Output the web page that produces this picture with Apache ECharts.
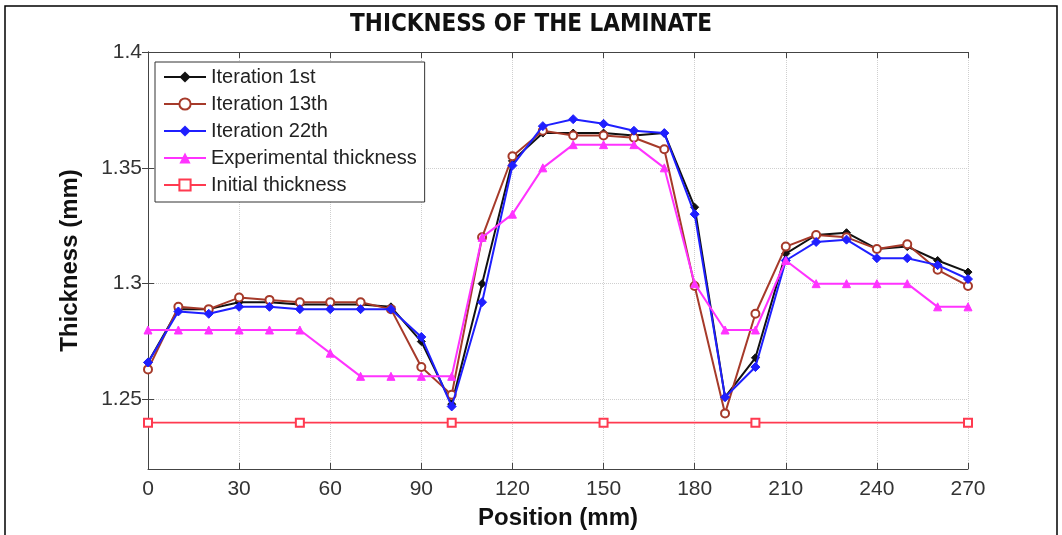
<!DOCTYPE html>
<html>
<head>
<meta charset="utf-8">
<script src="https://cdn.jsdelivr.net/npm/echarts@6/dist/echarts.min.js"></script>
<style>html,body{margin:0;padding:0;background:#fff;}#c{width:1062px;height:535px;}</style>
</head>
<body>
<div id="c"></div>
<script>
const positions = [0,10,20,30,40,50,60,70,80,90,100,110,120,130,140,150,160,170,180,190,200,210,220,230,240,250,260,270];
const iter1 = [1.266,1.289,1.289,1.292,1.292,1.291,1.291,1.291,1.290,1.275,1.248,1.300,1.353,1.365,1.365,1.365,1.364,1.365,1.333,1.251,1.268,1.313,1.321,1.322,1.315,1.316,1.310,1.305];
const iter13 = [1.263,1.290,1.289,1.294,1.293,1.292,1.292,1.292,1.289,1.264,1.252,1.320,1.355,1.366,1.364,1.364,1.363,1.358,1.299,1.244,1.287,1.316,1.321,1.320,1.315,1.317,1.306,1.299];
const iter22 = [1.266,1.288,1.287,1.290,1.290,1.289,1.289,1.289,1.289,1.277,1.247,1.292,1.351,1.368,1.371,1.369,1.366,1.365,1.330,1.251,1.264,1.310,1.318,1.319,1.311,1.311,1.308,1.302];
const experimental = [1.28,1.28,1.28,1.28,1.28,1.28,1.27,1.26,1.26,1.26,1.26,1.32,1.33,1.35,1.36,1.36,1.36,1.35,1.30,1.28,1.28,1.31,1.30,1.30,1.30,1.30,1.29,1.29];
const initialPositions = [0,50,100,150,200,270];
const initialValues = [1.24,1.24,1.24,1.24,1.24,1.24];
const xTicks = [0,30,60,90,120,150,180,210,240,270];
const yTicks = [1.25,1.3,1.35,1.4];

const pair = (xs, ys) => xs.map((x, i) => [x, ys[i]]);
const chart = echarts.init(document.getElementById('c'));
const FONT = 'Liberation Sans, Arial, sans-serif';
const axisCommon = {
  axisLine: {show: true, lineStyle: {color: '#444', width: 1}},
  axisTick: {show: true, inside: true, length: 6, lineStyle: {color: '#444'}},
};
function line(name, data, color, symbol, size, z, width) {
  return {
    name, type: 'line', data, symbol, symbolSize: size, z,
    itemStyle: {color: color, borderColor: color},
    lineStyle: {color: color, width: width || 2},
    emphasis: {disabled: true}, animation: false
  };
}
chart.setOption({
  animation: false,
  backgroundColor: '#fff',
  title: {
    text: 'THICKNESS OF THE LAMINATE', left: 'center', top: 8,
    textStyle: {fontFamily: "'Liberation Sans Narrow', 'DejaVu Sans Condensed', Arial, sans-serif", fontWeight: 'bold', fontSize: 24, color: '#111'}
  },
  grid: {left: 148, right: 94, top: 52, bottom: 65, show: false},
  legend: {
    orient: 'vertical', left: 155, top: 62,
    padding: [5, 8, 7, 8], itemGap: 7, itemWidth: 42, itemHeight: 14,
    backgroundColor: '#fff', borderColor: '#333', borderWidth: 1,
    textStyle: {fontFamily: FONT, fontSize: 20, color: '#222'},
    data: ['Iteration 1st', 'Iteration 13th', 'Iteration 22th', 'Experimental thickness', 'Initial thickness']
  },
  xAxis: [
    Object.assign({
      type: 'value', min: 0, max: 270, interval: 30, position: 'bottom',
      name: 'Position (mm)', nameLocation: 'middle', nameGap: 37,
      nameTextStyle: {fontFamily: FONT, fontWeight: 'bold', fontSize: 24, color: '#111'},
      axisLabel: {fontFamily: FONT, fontSize: 21, color: '#333', margin: 10},
      splitLine: {show: true, lineStyle: {color: '#cfcfcf', type: 'dotted', width: 1}}
    }, axisCommon),
    Object.assign({
      type: 'value', min: 0, max: 270, interval: 30, position: 'top',
      axisLabel: {show: false}, splitLine: {show: false}
    }, axisCommon)
  ],
  yAxis: [
    Object.assign({
      type: 'value', min: 1.22, max: 1.4, position: 'left',
      name: 'Thickness (mm)', nameLocation: 'middle', nameGap: 66,
      nameTextStyle: {fontFamily: FONT, fontWeight: 'bold', fontSize: 24, color: '#111'},
      axisLabel: {fontFamily: FONT, fontSize: 21, color: '#333', margin: 6, customValues: yTicks},
      axisTick: {show: true, inside: true, length: 6, lineStyle: {color: '#444'}, customValues: yTicks},
      splitLine: {show: true, lineStyle: {color: '#cfcfcf', type: 'dotted', width: 1}}
    }, {axisLine: axisCommon.axisLine}),
    {
      type: 'value', min: 1.22, max: 1.4, position: 'right',
      axisLine: axisCommon.axisLine,
      axisLabel: {show: false, customValues: yTicks},
      axisTick: {show: true, inside: true, length: 6, lineStyle: {color: '#444'}, customValues: yTicks},
      splitLine: {show: false}
    }
  ],
  graphic: [{
    type: 'rect', shape: {x: 5, y: 6, width: 1052, height: 540}, silent: true,
    style: {fill: 'none', stroke: '#000', lineWidth: 1.5}, z: 100
  }],
  series: [
    line('Iteration 1st', pair(positions, iter1), '#111111', 'diamond', 8, 2),
    line('Iteration 13th', pair(positions, iter13), '#a63a2a', 'emptyCircle', 8, 3),
    line('Iteration 22th', pair(positions, iter22), '#1f1fff', 'diamond', 9, 4),
    line('Experimental thickness', pair(positions, experimental), '#ff33ff', 'triangle', 8, 5),
    line('Initial thickness', pair(initialPositions, initialValues), '#ff3a50', 'emptyRect', 8, 6, 1.8)
  ]
});
</script>
</body>
</html>
